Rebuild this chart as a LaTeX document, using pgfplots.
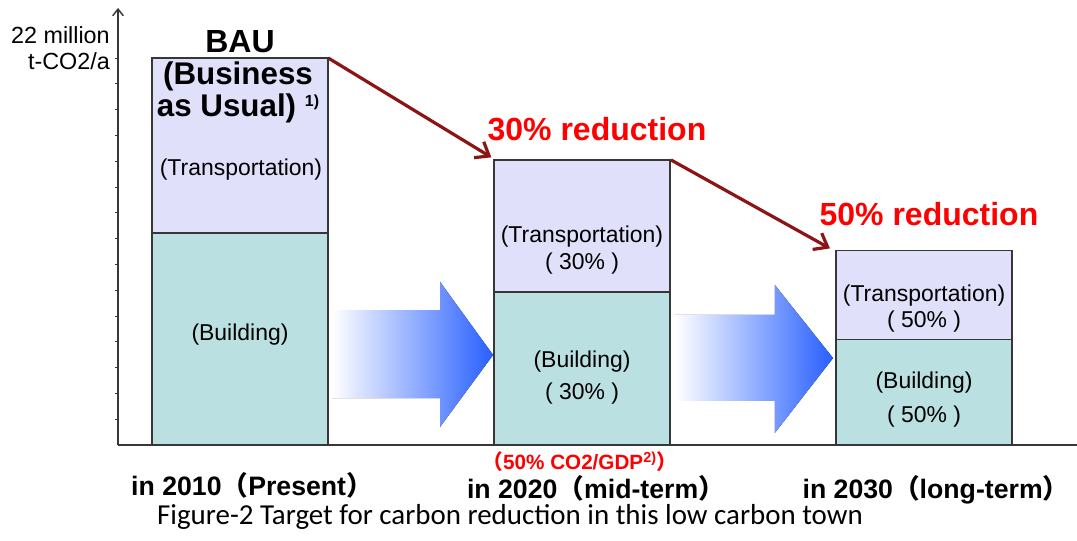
\documentclass[border=0pt]{standalone}
\usepackage{fontspec}
\setmainfont{Liberation Sans}
\newfontfamily\cjk{Noto Sans CJK JP}
\newfontfamily\calib{Carlito}
\usepackage{pgfplots}
\pgfplotsset{compat=1.18}
\usetikzlibrary{arrows.meta}
\definecolor{trans}{RGB}{224,224,250}
\definecolor{build}{RGB}{186,224,226}
\definecolor{darr}{RGB}{140,20,20}
\definecolor{redt}{RGB}{255,0,0}
\definecolor{blu}{RGB}{40,95,255}
\definecolor{axgray}{RGB}{55,55,55}
\begin{document}
\begin{tikzpicture}
\path[use as bounding box] (-180pt,-71.25pt) rectangle (627.75pt,333.75pt);
\begin{axis}[
 at={(0,0)}, anchor=origin,
 x=256.5pt, y=19.35pt,
 xmin=-0.3567, xmax=2.447, ymin=0, ymax=16.94,
 axis x line=bottom, axis y line=left,
 x axis line style={-}, y axis line style={-{Straight Barb[length=5pt,width=8pt]}},
 axis line style={axgray, line width=1.1pt},
 xtick=\empty, ytick={1,...,15}, yticklabels={},
 tick align=outside, major tick length=2.5pt, tick style={axgray, line width=0.6pt},
 ybar stacked, bar width=132pt,
 clip=false,
]
\addplot[fill=build, draw=axgray, line width=1pt] coordinates {(0,8.22) (1,5.93) (2,4.09)};
\addplot[fill=trans, draw=axgray, line width=1pt] coordinates {(0,6.78) (1,5.12) (2,3.45)};
\fill[left color=white, right color=blu] (axis cs:0.269,5.23) -- (axis cs:0.585,5.23) -- (axis cs:0.585,6.32) -- (axis cs:0.740,3.49) -- (axis cs:0.585,0.70) -- (axis cs:0.585,1.82) -- (axis cs:0.269,1.82) -- cycle;
\fill[left color=white, right color=blu] (axis cs:1.272,5.04) -- (axis cs:1.564,5.04) -- (axis cs:1.564,6.20) -- (axis cs:1.734,3.37) -- (axis cs:1.564,0.47) -- (axis cs:1.564,1.71) -- (axis cs:1.272,1.71) -- cycle;
\draw[darr, line width=2.4pt, -{Straight Barb[length=9pt,width=14pt]}] (axis cs:0.258,15.0) -- (axis cs:0.735,11.15);
\draw[darr, line width=2.4pt, -{Straight Barb[length=9pt,width=14pt]}] (axis cs:1.260,11.05) -- (axis cs:1.725,7.62);
\end{axis}
\begin{scope}[shift={(-180pt,333.75pt)}, x=0.75pt, y=-0.75pt]
\node[align=right, font=\fontsize{17.5}{20}\selectfont, anchor=east, inner sep=0pt] at (110,48) {22 million\\t-CO2/a};
\node[font=\bfseries\fontsize{24}{24}\selectfont] at (240,42) {BAU};
\node[font=\bfseries\fontsize{23.5}{24}\selectfont, align=center] at (238,92) {(Business\\as Usual) \raisebox{0.55ex}{\fontsize{12}{12}\selectfont 1)}};
\node[font=\fontsize{17.2}{17}\selectfont] at (241,170) {(Transportation)};
\node[font=\fontsize{17.2}{17}\selectfont] at (240,335) {(Building)};
\node[font=\fontsize{17.2}{17}\selectfont] at (582,237) {(Transportation)};
\node[font=\fontsize{17.2}{17}\selectfont] at (582,264) {( 30\% )};
\node[font=\fontsize{17.2}{17}\selectfont] at (582,362) {(Building)};
\node[font=\fontsize{17.2}{17}\selectfont] at (582,394) {( 30\% )};
\node[font=\fontsize{17.2}{17}\selectfont] at (924,296) {(Transportation)};
\node[font=\fontsize{17.2}{17}\selectfont] at (924,322) {( 50\% )};
\node[font=\fontsize{17.2}{17}\selectfont] at (924,383) {(Building)};
\node[font=\fontsize{17.2}{17}\selectfont] at (924,417) {( 50\% )};
\node[font=\bfseries\fontsize{24}{24}\selectfont, text=redt] at (597,129) {30\% reduction};
\node[font=\bfseries\fontsize{24}{24}\selectfont, text=redt] at (929,214) {50\% reduction};
\node[font=\bfseries\fontsize{15.5}{14}\selectfont, text=redt] at (580,462) {{\cjk （}50\% CO2/GDP\textsuperscript{2)}{\cjk ）}};
\node[font=\bfseries\fontsize{20}{20}\selectfont] at (252,485) {in 2010{\cjk （}Present{\cjk ）}};
\node[font=\bfseries\fontsize{20}{20}\selectfont] at (596,488) {in 2020{\cjk （}mid-term{\cjk ）}};
\node[font=\bfseries\fontsize{20}{20}\selectfont] at (936,490) {in 2030{\cjk （}long-term{\cjk ）}};
\node[font=\calib\fontsize{21.7}{22}\selectfont] at (510,517) {Figure-2 Target for carbon reduction in this low carbon town};
\end{scope}
\end{tikzpicture}
\end{document}
